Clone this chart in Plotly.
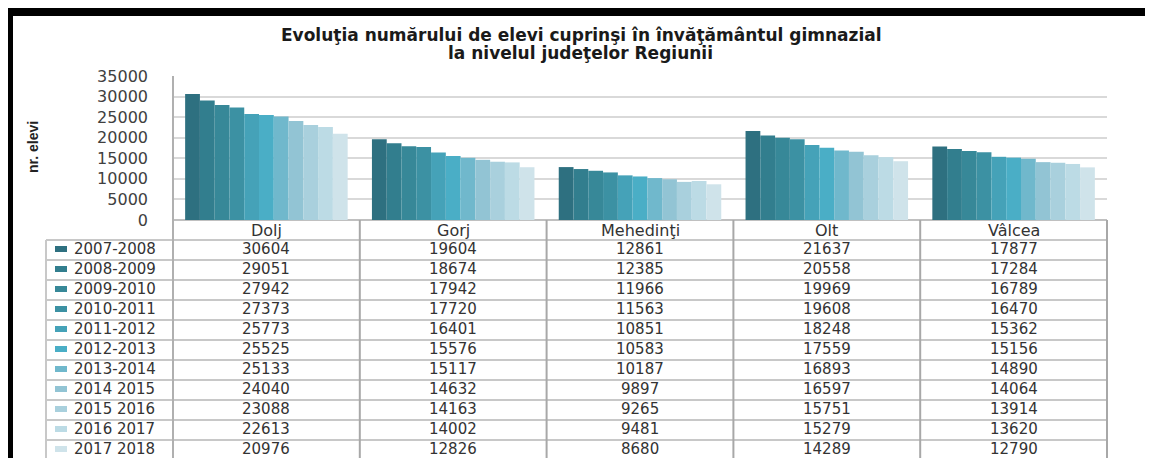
import plotly.graph_objects as go

counties = ["Dolj", "Gorj", "Mehedinţi", "Olt", "Vâlcea"]
years = ["2007-2008", "2008-2009", "2009-2010", "2010-2011", "2011-2012",
         "2012-2013", "2013-2014", "2014 2015", "2015 2016", "2016 2017", "2017 2018"]
values = [
    [30604, 19604, 12861, 21637, 17877],
    [29051, 18674, 12385, 20558, 17284],
    [27942, 17942, 11966, 19969, 16789],
    [27373, 17720, 11563, 19608, 16470],
    [25773, 16401, 10851, 18248, 15362],
    [25525, 15576, 10583, 17559, 15156],
    [25133, 15117, 10187, 16893, 14890],
    [24040, 14632, 9897, 16597, 14064],
    [23088, 14163, 9265, 15751, 13914],
    [22613, 14002, 9481, 15279, 13620],
    [20976, 12826, 8680, 14289, 12790],
]
colors = ["#2e7080", "#327e8e", "#378898", "#3c91a3", "#45a2b8", "#4aaec6",
          "#70b8cc", "#92c4d4", "#a9d0dd", "#bcdbe5", "#cfe3ea"]
y_ticks = [0, 5000, 10000, 15000, 20000, 25000, 30000, 35000]

OFF = 8  # default body margin of the page
W, H = 1153 - OFF, 458 - OFF
# plot area in page pixels
L, R, T, B = 173, 1107, 76, 220


def px(x):
    return (x - L) / (R - L)


def py(y):
    return (B - y) / (B - T)


fig = go.Figure()
for yr, vals, c in zip(years, values, colors):
    fig.add_trace(go.Bar(x=counties, y=vals, name=yr, marker_color=c,
                         marker_line_width=0, showlegend=False))

FONT = "DejaVu Sans"
shapes = []
annotations = []

# outer frame: black bars top & left, thin gray right
shapes.append(dict(type="rect", xref="paper", yref="paper", x0=px(OFF), x1=px(1153),
                   y0=py(16), y1=py(OFF), fillcolor="black", line_width=0, layer="above"))
shapes.append(dict(type="rect", xref="paper", yref="paper", x0=px(OFF), x1=px(13),
                   y0=py(460), y1=py(OFF), fillcolor="black", line_width=0, layer="above"))
shapes.append(dict(type="line", xref="paper", yref="paper", x0=px(1151), x1=px(1151),
                   y0=py(460), y1=py(16), line=dict(color="#a0a0a0", width=1.5)))

# table lines
row_h = 20
for i in range(len(years) + 1):
    yy = 240 + row_h * i
    shapes.append(dict(type="line", xref="paper", yref="paper", x0=px(46), x1=px(R),
                       y0=py(yy), y1=py(yy), line=dict(color="#c8c8c8", width=2)))
shapes.append(dict(type="line", xref="paper", yref="paper", x0=px(46), x1=px(46),
                   y0=py(460), y1=py(240), line=dict(color="#c8c8c8", width=2)))
shapes.append(dict(type="line", xref="paper", yref="paper", x0=px(L), x1=px(L),
                   y0=py(460), y1=py(T), line=dict(color="#b0b0b0", width=2)))
ncat = len(counties)
for k in range(1, ncat + 1):
    xx = L + (R - L) * k / ncat
    shapes.append(dict(type="line", xref="paper", yref="paper", x0=px(xx), x1=px(xx),
                       y0=py(460), y1=py(B), line=dict(color="#a8a8a8", width=2)))

# header: county names
for c in counties:
    annotations.append(dict(x=c, xref="x", y=py(230), yref="paper", text=c,
                            showarrow=False, font=dict(family=FONT, size=16, color="#333333"),
                            xanchor="center", yanchor="middle"))

# rows
for i, (yr, vals, col) in enumerate(zip(years, values, colors)):
    yc = 249 + row_h * i
    shapes.append(dict(type="rect", xref="paper", yref="paper", x0=px(55), x1=px(67),
                       y0=py(yc + 3), y1=py(yc - 3), fillcolor=col, line_width=0))
    annotations.append(dict(x=px(72), xref="paper", y=py(yc), yref="paper", text=yr,
                            showarrow=False, font=dict(family=FONT, size=15, color="#333333"),
                            xanchor="left", yanchor="middle"))
    for c, v in zip(counties, vals):
        annotations.append(dict(x=c, xref="x", y=py(yc), yref="paper", text=str(v),
                                showarrow=False,
                                font=dict(family=FONT, size=15, color="#333333"),
                                xanchor="center", yanchor="middle"))

# title
annotations.append(dict(x=px(581), xref="paper", y=py(35), yref="paper",
                        text="<b>Evoluţia numărului de elevi cuprinşi în învăţământul gimnazial</b>",
                        showarrow=False, font=dict(family=FONT, size=17, color="#1a1a1a"),
                        xanchor="center", yanchor="middle"))
annotations.append(dict(x=px(580), xref="paper", y=py(53), yref="paper",
                        text="<b>la nivelul judeţelor Regiunii</b>",
                        showarrow=False, font=dict(family=FONT, size=17, color="#1a1a1a"),
                        xanchor="center", yanchor="middle"))
# y axis title
annotations.append(dict(x=px(33), xref="paper", y=py(147), yref="paper",
                        text="<b>nr. elevi</b>", textangle=-90,
                        showarrow=False, font=dict(family="Liberation Sans", size=14, color="#222222"),
                        xanchor="center", yanchor="middle"))

fig.update_layout(
    width=W, height=H,
    margin=dict(l=L - OFF, r=W - (R - OFF), t=T - OFF, b=H - (B - OFF), pad=0, autoexpand=False),
    paper_bgcolor="white", plot_bgcolor="white",
    barmode="group", bargap=0.13, bargroupgap=0,
    shapes=shapes, annotations=annotations,
    xaxis=dict(showticklabels=False, showgrid=False, showline=False, zeroline=False,
               ticks="", categoryorder="array", categoryarray=counties,
               range=[-0.5, ncat - 0.5]),
    yaxis=dict(range=[0, 35000], tickvals=y_ticks, ticktext=[str(v) for v in y_ticks],
               showgrid=True, gridcolor="#d9d9d9",
               gridwidth=2, zeroline=True, zerolinecolor="#c0c0c0", zerolinewidth=2,
               showline=False, ticks="", ticklabelstandoff=24,
               tickfont=dict(family=FONT, size=16, color="#404040")),
)

fig.write_html("out.html")
